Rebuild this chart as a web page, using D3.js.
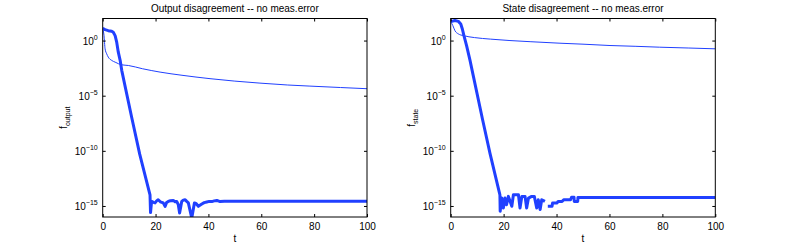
<!DOCTYPE html>
<html>
<head>
<meta charset="utf-8">
<script src="https://cdn.jsdelivr.net/npm/d3@7"></script>
<style>
  body { margin: 0; background: #fff; }
  svg text { font-family: "Liberation Sans", Arial, Helvetica, sans-serif; fill: #000; }
</style>
</head>
<body>
<svg id="chart" width="790" height="245"></svg>
<script>
// x ticks and y ticks (decades)
let xTicks = [0, 20, 40, 60, 80, 100];
let yTicks = [1e0, 1e-5, 1e-10, 1e-15];
let yExp = ['0', '\u22125', '\u221210', '\u221215'];

// output disagreement, slow (thin) curve
let outSlowT = [0, 0.5, 0.9, 1.5, 2.1, 3.4, 4.7, 7.2, 9.7, 15, 21.7, 30, 40.6, 50, 59.5, 70, 78.4, 90, 100];
let outSlowV = [12.6, 2.8, 0.178, 0.063, 0.0316, 0.0158, 0.011, 6.3e-3, 5.5e-3, 2.8e-3, 1.38e-3, 7.1e-4, 3.5e-4, 2.1e-4, 1.38e-4, 9.3e-5, 7.4e-5, 5.5e-5, 4.3e-5];

// output disagreement, fast (thick) curve
let outFastT = [0, 0.9, 2.1, 3.4, 4.0, 4.7, 5.3, 5.9, 6.6, 7.2, 11, 14, 17.9, 18.1, 18.5, 19.2, 19.8, 20.4, 21.0, 21.8, 22.9, 23.6, 24.2, 24.8, 25.6, 26.7, 27.4, 28.0, 28.6, 29.1, 29.9, 30.5, 31.2, 31.8, 32.4, 33.7, 34.7, 35.4, 36.2, 37.5, 38.4, 39.4, 40.3, 41.3, 42.2, 43.2, 44.4, 46, 60, 80, 100];
let outFastV = [12.6, 9.8, 7.9, 6.9, 5.6, 2.8, 0.71, 0.089, 0.016, 2e-3, 1e-7, 5e-11, 1e-14, 2.5e-16, 2.6e-15, 2.1e-15, 1.9e-15, 2.9e-15, 3.7e-15, 2.4e-15, 1.9e-15, 9.3e-16, 2.1e-15, 2.6e-15, 3.0e-15, 3.2e-15, 2.4e-15, 2.6e-15, 1.3e-15, 2.3e-16, 2.6e-15, 3.4e-15, 3.7e-15, 2.6e-15, 1.9e-15, 8e-17, 1.9e-15, 1.6e-15, 9.3e-16, 1.5e-15, 2.0e-15, 2.3e-15, 2.6e-15, 2.5e-15, 2.9e-15, 3.2e-15, 2.5e-15, 2.7e-15, 2.7e-15, 2.7e-15, 2.7e-15];

// state disagreement, slow (thin) curve
let stSlowT = [0, 0.8, 1.6, 2.9, 4.8, 9, 15, 22.4, 30, 41.3, 50, 60.2, 70, 79, 90, 100];
let stSlowV = [52, 23, 7.9, 4.0, 2.8, 1.86, 1.35, 1.0, 0.79, 0.575, 0.47, 0.355, 0.3, 0.25, 0.21, 0.178];

// state disagreement, fast (thick) curve; null = gap
let stFastT = [0, 1.6, 2.9, 3.8, 4.4, 5.0, 6.0, 7.3, 8.5, 12.1, 14.85, 18.6, 18.7, 19.3, 19.9, 20.5, 21.1, 21.8, 23.1, 23.7, 25.6, 26.2, 26.9, 28.1, 28.7, 29.4, 30.6, 31.6, 32.5, 33.1, 33.8, 34.4, 35.6, 36.2, 36.7, 38.3, 38.5, 40.2, 40.6, 42.1, 42.8, 45.3, 45.7, 46.6, 46.7, 48.0, 48.1, 60, 80, 100];
let stFastV = [52, 65, 55, 32, 11.2, 2.8, 0.35, 0.016, 6.9e-4, 5.9e-8, 5.8e-11, 1e-14, 3.3e-16, 5.2e-15, 6.6e-16, 5.2e-15, 1.3e-15, 7.4e-15, 9.3e-16, 1.05e-14, 1.05e-14, 6.6e-16, 7.4e-15, 7.4e-15, 6.6e-16, 5.2e-15, 7.4e-15, 7.4e-15, 6.6e-16, 3.7e-15, 4.7e-16, 3.7e-15, 2.6e-15, null, 9.3e-16, 9.3e-16, 1.9e-15, 1.9e-15, 2.6e-15, 2.6e-15, 3.7e-15, 3.7e-15, 6.3e-15, 6.3e-15, 2.6e-15, 2.6e-15, 6.0e-15, 6.0e-15, 6.0e-15, 6.0e-15];

let panels = [
  { left: 102.7, right: 367, title: 'Output disagreement -- no meas.error', sub: 'output',
    slowT: outSlowT, slowV: outSlowV, fastT: outFastT, fastV: outFastV },
  { left: 450.7, right: 715.3, title: 'State disagreement -- no meas.error', sub: 'state',
    slowT: stSlowT, slowV: stSlowV, fastT: stFastT, fastV: stFastV }
];

let plotTop = 18.5, plotBottom = 217;
let lineColor = '#2040ff';
let svg = d3.select('#chart');

panels.forEach(function (p, k) {
  let x = d3.scaleLinear().domain([0, 100]).range([p.left, p.right]);
  let y = d3.scaleLog().domain([1e-16, 1e2]).range([plotBottom, plotTop]);
  let g = svg.append('g');

  // clip lines to the axes box
  g.append('clipPath').attr('id', 'clip' + k)
    .append('rect')
    .attr('x', p.left).attr('y', plotTop)
    .attr('width', p.right - p.left).attr('height', plotBottom - plotTop);

  let line = d3.line()
    .defined(function (d) { return d[1] !== null; })
    .x(function (d) { return x(d[0]); })
    .y(function (d) { return y(d[1]); });

  let slow = p.slowT.map(function (t, i) { return [t, p.slowV[i]]; });
  let fast = p.fastT.map(function (t, i) { return [t, p.fastV[i]]; });

  g.append('path')
    .attr('clip-path', 'url(#clip' + k + ')')
    .attr('d', line.curve(d3.curveMonotoneX)(slow))
    .attr('fill', 'none')
    .attr('stroke', lineColor)
    .attr('stroke-width', 1);

  g.append('path')
    .attr('clip-path', 'url(#clip' + k + ')')
    .attr('d', line.curve(d3.curveLinear)(fast))
    .attr('fill', 'none')
    .attr('stroke', lineColor)
    .attr('stroke-width', 3)
    .attr('stroke-linejoin', 'round');

  // inward ticks on all four sides
  let axB = g.append('g').attr('transform', 'translate(0,' + plotBottom + ')')
    .call(d3.axisBottom(x).tickValues(xTicks).tickSizeInner(-3).tickSizeOuter(0).tickPadding(6));
  let axT = g.append('g').attr('transform', 'translate(0,' + plotTop + ')')
    .call(d3.axisTop(x).tickValues(xTicks).tickSizeInner(-3).tickSizeOuter(0).tickFormat(''));
  let axL = g.append('g').attr('transform', 'translate(' + p.left + ',0)')
    .call(d3.axisLeft(y).tickValues(yTicks).tickSizeInner(-3).tickSizeOuter(0).tickFormat(''));
  let axR = g.append('g').attr('transform', 'translate(' + p.right + ',0)')
    .call(d3.axisRight(y).tickValues(yTicks).tickSizeInner(-3).tickSizeOuter(0).tickFormat(''));
  [axB, axT, axL, axR].forEach(function (a) {
    a.select('.domain').remove();
    a.selectAll('line').attr('stroke', '#000');
  });
  axB.selectAll('text')
    .attr('font-size', 10)
    .style('font-family', '"Liberation Sans", Arial, sans-serif');

  // 10^n labels
  yTicks.forEach(function (v, i) {
    let t = g.append('text')
      .attr('x', p.left - 5)
      .attr('y', y(v) + 4)
      .attr('text-anchor', 'end')
      .attr('font-size', 10);
    t.append('tspan').text('10');
    t.append('tspan').attr('font-size', 7).attr('dy', -4.5).text(yExp[i]);
  });

  // box
  g.append('rect')
    .attr('x', p.left).attr('y', plotTop)
    .attr('width', p.right - p.left).attr('height', plotBottom - plotTop)
    .attr('fill', 'none').attr('stroke', '#000').attr('stroke-width', 1);

  let cx = (p.left + p.right) / 2;
  g.append('text')
    .attr('x', cx).attr('y', 11.5)
    .attr('text-anchor', 'middle')
    .attr('font-size', 10)
    .text(p.title);

  g.append('text')
    .attr('x', cx).attr('y', 242)
    .attr('text-anchor', 'middle')
    .attr('font-size', 10)
    .text('t');

  let yl = g.append('text')
    .attr('transform', 'translate(' + (p.left - 36) + ',' + ((plotTop + plotBottom) / 2) + ') rotate(-90)')
    .attr('text-anchor', 'middle')
    .attr('font-size', 10);
  yl.append('tspan').text('f');
  yl.append('tspan').attr('font-size', 7).attr('dy', 3).text(p.sub);
});
</script>
</body>
</html>
